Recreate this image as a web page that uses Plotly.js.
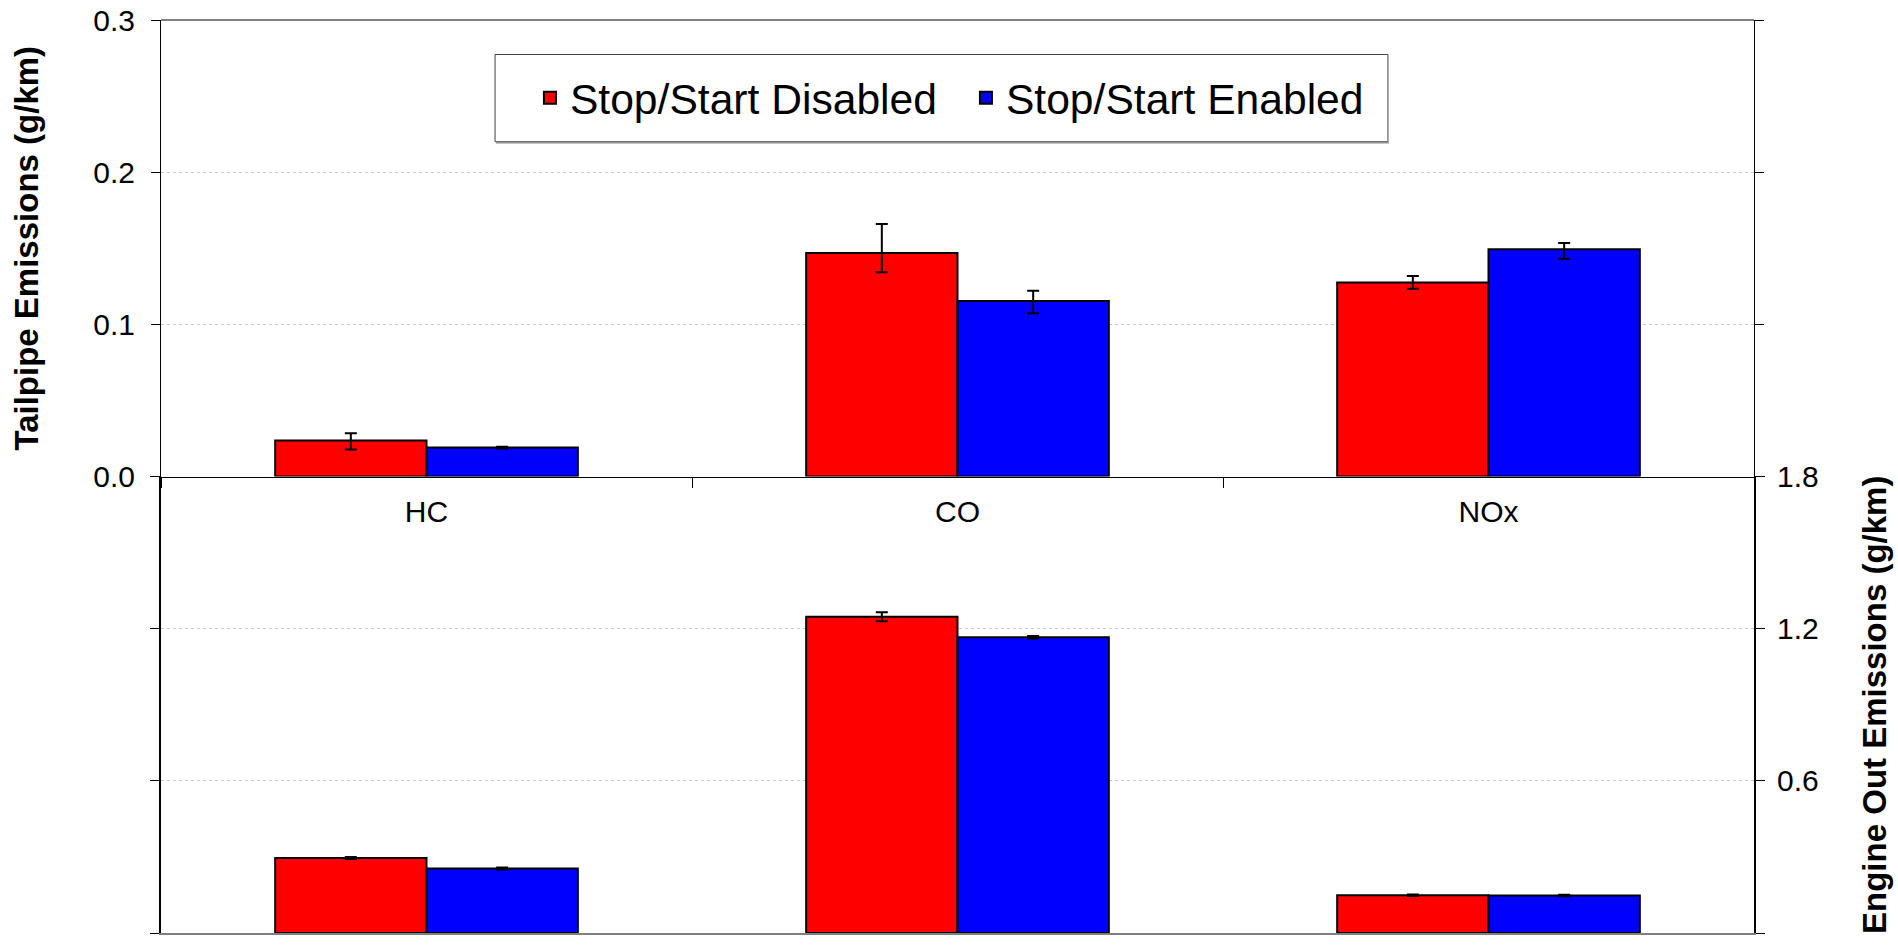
<!DOCTYPE html>
<html>
<head>
<meta charset="utf-8">
<script src="https://cdn.plot.ly/plotly-3.0.1.min.js"></script>
<style>html,body{margin:0;padding:0;background:#fff;}#chart{width:1898px;height:946px;}</style>
</head>
<body>
<div id="chart"></div>
<script>
// Categories and series
const categories = ["HC", "CO", "NOx"];
const seriesNames = ["Stop/Start Disabled", "Stop/Start Enabled"];

// Tailpipe emissions (g/km) - top panel
const tailpipeDisabled = [0.0237, 0.1468, 0.1275];
const tailpipeDisabledErrPlus = [0.0048, 0.0191, 0.0042];
const tailpipeDisabledErrMinus = [0.0059, 0.0125, 0.0041];
const tailpipeEnabled = [0.0190, 0.1153, 0.1494];
const tailpipeEnabledErrPlus = [0.0006, 0.0067, 0.0040];
const tailpipeEnabledErrMinus = [0.0006, 0.0080, 0.0063];

// Engine out emissions (g/km) - bottom panel
const engineDisabled = [0.296, 1.247, 0.149];
const engineDisabledErr = [0.004, 0.018, 0.003];
const engineEnabled = [0.254, 1.166, 0.148];
const engineEnabledErr = [0.004, 0.005, 0.003];

// Axis ticks
const tailpipeTicks = [0, 0.1, 0.2, 0.3];
const engineTicks = [0, 0.6, 1.2, 1.8];

const FONT = "Liberation Sans, Arial, sans-serif";
const RED = "#ff0000";
const BLUE = "#0000ff";

function bar(name, x, y, errPlus, errMinus, color, xa, ya, showlegend) {
  return {
    type: "bar", name: name, x: x, y: y,
    xaxis: xa, yaxis: ya, showlegend: showlegend,
    marker: {color: color, line: {color: "#000", width: 2}},
    error_y: {type: "data", array: errPlus, arrayminus: errMinus, symmetric: false,
              color: "#000", thickness: 2, width: 6},
    hoverinfo: "x+y"
  };
}

const data = [
  bar(seriesNames[0], categories, tailpipeDisabled, tailpipeDisabledErrPlus, tailpipeDisabledErrMinus, RED, "x", "y", true),
  bar(seriesNames[1], categories, tailpipeEnabled, tailpipeEnabledErrPlus, tailpipeEnabledErrMinus, BLUE, "x", "y", true),
  bar(seriesNames[0], categories, engineDisabled, engineDisabledErr, engineDisabledErr, RED, "x2", "y2", false),
  bar(seriesNames[1], categories, engineEnabled, engineEnabledErr, engineEnabledErr, BLUE, "x2", "y2", false)
];

const layout = {
  width: 1898, height: 946,
  margin: {l: 161, r: 144, t: 20, b: 13},
  paper_bgcolor: "#fff", plot_bgcolor: "#fff",
  font: {family: FONT, color: "#000", size: 30},
  barmode: "group", bargap: 0.43, bargroupgap: 0,
  showlegend: true,
  legend: {
    orientation: "h", x: 0.2316, y: 0.9146, xanchor: "left", yanchor: "middle",
    bgcolor: "rgba(0,0,0,0)", borderwidth: 0,
    entrywidth: 391, entrywidthmode: "pixels",
    font: {family: FONT, size: 42.6, color: "#000"}
  },
  xaxis: {
    domain: [0, 1], anchor: "y", type: "category",
    showline: true, linecolor: "#000", linewidth: 1,
    ticks: "outside", tickson: "boundaries", ticklen: 10, tickcolor: "#000", tickwidth: 1,
    ticklabelstandoff: 8,
    tickfont: {family: FONT, size: 30, color: "#000"},
    showgrid: false, zeroline: false, fixedrange: true
  },
  xaxis2: {
    domain: [0, 1], anchor: "y2", type: "category", matches: "x",
    showline: true, linecolor: "#808080", linewidth: 2,
    ticks: "", showticklabels: false, showgrid: false, zeroline: false
  },
  yaxis: {
    domain: [0.5, 1], anchor: "x", range: [0, 0.3],
    tickvals: tailpipeTicks, tickformat: ".1f",
    ticks: "outside", ticklen: 9, tickcolor: "#000", tickwidth: 1,
    ticklabelstandoff: 10,
    showline: true, linecolor: "#000", linewidth: 1, mirror: "ticks",
    showgrid: true, gridcolor: "#c8c8c8", griddash: "dot", gridwidth: 1,
    zeroline: false,
    tickfont: {family: FONT, size: 30, color: "#000"},
    title: {text: "<b>Tailpipe Emissions (g/km)</b>", font: {family: FONT, size: 33, color: "#000"}, standoff: 44}
  },
  yaxis2: {
    domain: [0, 0.5], anchor: "x2", range: [0, 1.8], side: "right",
    tickvals: engineTicks, tickformat: ".1f",
    ticks: "outside", ticklen: 9, tickcolor: "#000", tickwidth: 1,
    ticklabelstandoff: 6,
    showline: true, linecolor: "#000", linewidth: 2, mirror: "ticks",
    showgrid: true, gridcolor: "#c8c8c8", griddash: "dot", gridwidth: 1,
    zeroline: false,
    tickfont: {family: FONT, size: 30, color: "#000"},
    title: {text: "<b>Engine Out Emissions (g/km)</b>", font: {family: FONT, size: 33, color: "#000"}, standoff: 45}
  },
  shapes: [
    {type: "line", xref: "paper", yref: "paper", x0: 0, x1: 1, y0: 1, y1: 1,
     line: {color: "#808080", width: 2}},
    {type: "rect", xref: "paper", yref: "paper", x0: 0.2097, x1: 0.7702, y0: 0.8668, y1: 0.9622,
     line: {color: "#404040", width: 1}, fillcolor: "#fff", layer: "above"},
    {type: "line", xref: "paper", yref: "paper", x0: 0.2103, x1: 0.7708, y0: 0.8657, y1: 0.8657,
     line: {color: "#909090", width: 2}}
  ]
};

Plotly.newPlot("chart", data, layout, {displayModeBar: false, staticPlot: true});
</script>
</body>
</html>
